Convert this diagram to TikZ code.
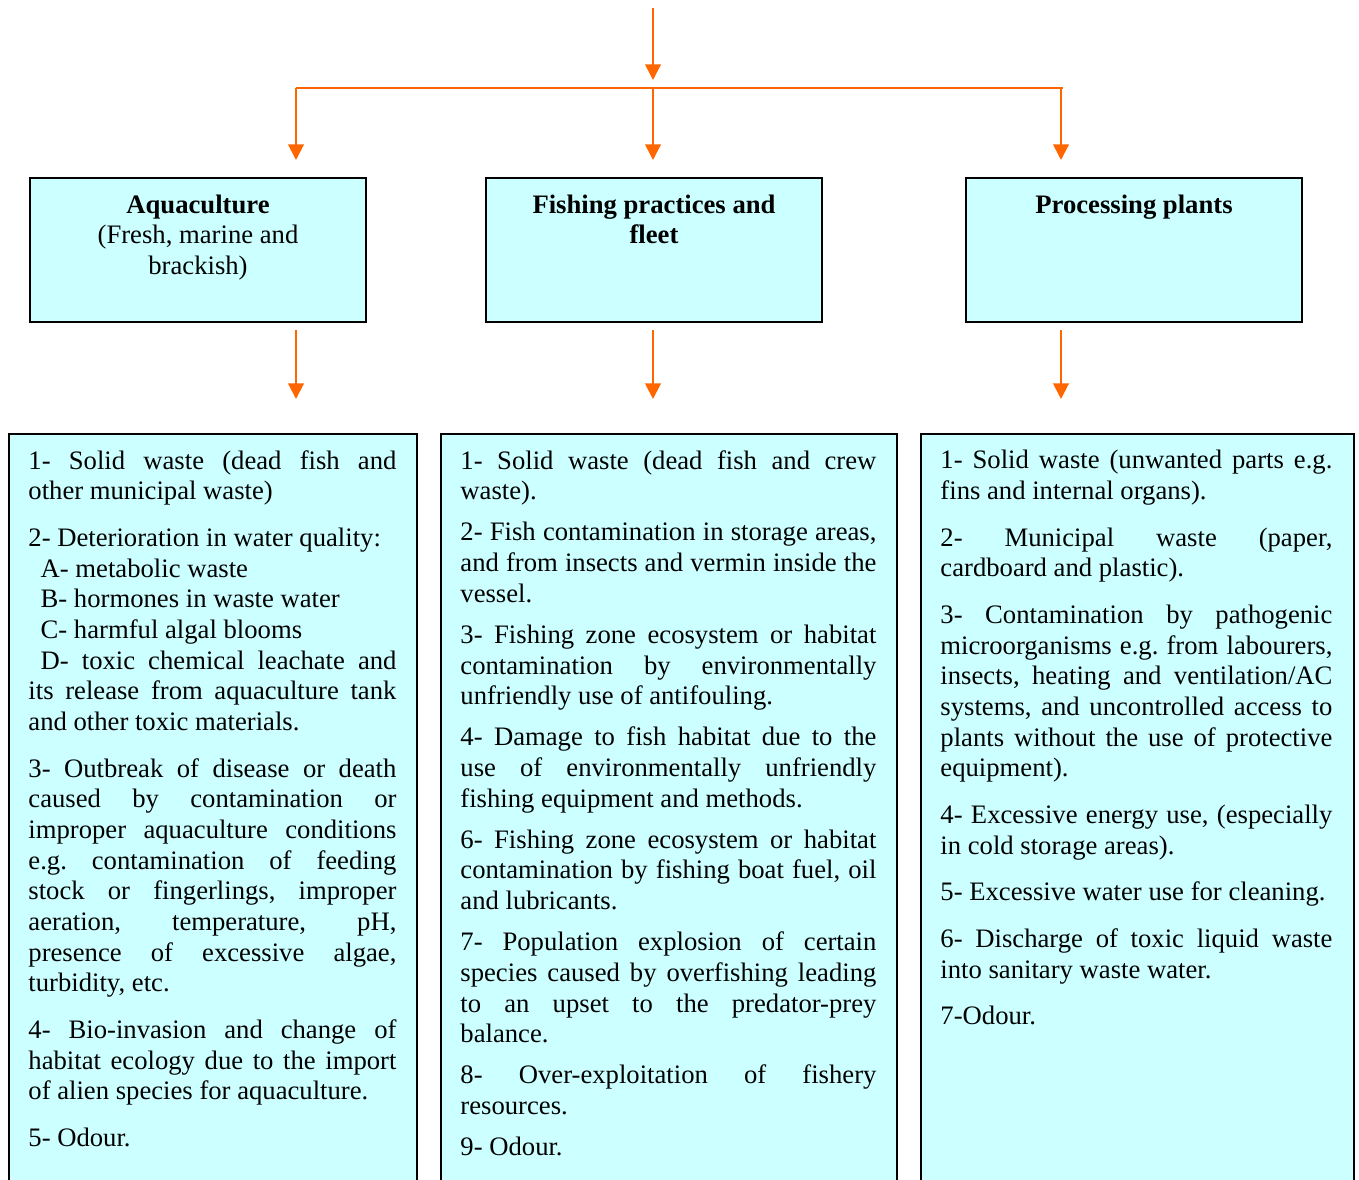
\documentclass[tikz,border=0pt]{standalone}
\usepackage{fontspec}
\setmainfont{Liberation Serif}
\usepackage{tikz}
\usetikzlibrary{positioning,arrows.meta}
\definecolor{boxcyan}{HTML}{CCFFFF}
\definecolor{flowline}{HTML}{FF6600}

\begin{document}
\begin{tikzpicture}[x=0.45pt,y=-0.45pt,
	flow/.style={draw=flowline,line width=0.9pt,-{Triangle[width=7pt,length=7pt]}},
	busline/.style={draw=flowline,line width=0.9pt},
	topbox/.style={draw,fill=boxcyan,line width=0.9pt,minimum width=151.2pt,minimum height=64.8pt,inner sep=0pt,anchor=north west},
	listbox/.style={draw,fill=boxcyan,line width=0.9pt,minimum height=345pt,inner sep=0pt,anchor=north west},
	titletext/.style={align=flush center,text width=121.5pt,inner sep=0pt,font=\fontsize{12}{13.8}\selectfont},
	listtext/.style={align=justify,inner sep=0pt,font=\fontsize{12}{13.8}\selectfont,
		execute at begin node={\setlength{\parskip}{#1}\frenchspacing\spaceskip=3pt plus 8pt\hyphenpenalty=10000\tolerance=9999}}]
	\useasboundingbox (0,0) rectangle (1359,1180);
	%Boxes
	\node[topbox] (aquaBox) at (29,177) {};
	\node[topbox] (fleetBox) at (485,177) {};
	\node[topbox] (plantBox) at (965,177) {};
	\node[listbox,minimum width=183.6pt] (aquaList) at (8,433) {};
	\node[listbox,minimum width=205.2pt] (fleetList) at (440,433) {};
	\node[listbox,minimum width=194.85pt] (plantList) at (920,433) {};
	%Titles
	\node[titletext,below=7.8pt of aquaBox.north] (aquaTitle) {\textbf{Aquaculture}\\(Fresh, marine and brackish)};
	\node[titletext,below=7.8pt of fleetBox.north] (fleetTitle) {\textbf{Fishing practices and fleet}};
	\node[titletext,below=7.8pt of plantBox.north] (plantTitle) {\textbf{Processing plants}};
	%Lists
	\node[listtext=7.2pt,text width=165.6pt,below right=7.6pt and 9pt of aquaList.north west] (aquaItems) {
		1- Solid waste (dead fish and other municipal waste)\par
		2- Deterioration in water quality:\newline
		\hspace*{5.5pt}A- metabolic waste\newline
		\hspace*{5.5pt}B- hormones in waste water\newline
		\hspace*{5.5pt}C- harmful algal blooms\newline
		\hspace*{5.5pt}D- toxic chemical leachate and its release from aquaculture tank and other toxic materials.\par
		3- Outbreak of disease or death caused by contamination or improper aquaculture conditions e.g. contamination of feeding stock or fingerlings, improper aeration, temperature, pH, presence of excessive algae, turbidity, etc.\par
		4- Bio-invasion and change of habitat ecology due to the import of alien species for aquaculture.\par
		5- Odour.};
	\node[listtext=4.7pt,text width=187.2pt,below right=7.6pt and 9pt of fleetList.north west] (fleetItems) {
		1- Solid waste (dead fish and crew waste).\par
		2- Fish contamination in storage areas, and from insects and vermin inside the vessel.\par
		3- Fishing zone ecosystem or habitat contamination by environmentally unfriendly use of antifouling.\par
		4- Damage to fish habitat due to the\linebreak use of environmentally unfriendly fishing equipment and methods.\par
		6- Fishing zone ecosystem or habitat contamination by fishing boat fuel, oil and lubricants.\par
		7- Population explosion of certain species caused by overfishing leading to an upset to the predator-prey balance.\par
		8- Over-exploitation of fishery resources.\par
		9- Odour.};
	\node[listtext=7.2pt,text width=176.4pt,below right=7.6pt and 9pt of plantList.north west] (plantItems) {
		1- Solid waste (unwanted parts e.g. fins and internal organs).\par
		2- Municipal waste (paper, cardboard and plastic).\par
		3- Contamination by pathogenic microorganisms e.g. from labourers, insects, heating and ventilation/AC systems, and uncontrolled access to plants without the use of protective equipment).\par
		4- Excessive energy use, (especially in cold storage areas).\par
		5- Excessive water use for cleaning.\par
		6- Discharge of toxic liquid waste into sanitary waste water.\par
		7-Odour.};
	%Split
	\coordinate (feed) at (653,8);
	\coordinate (busL) at (296,88);
	\coordinate (busM) at (653,88);
	\coordinate (busR) at (1063,88);
	\draw
		(feed) edge[flow,shorten >=3.6pt] (busM)
		(busL) edge[busline] (busR)
		(busL) edge[flow,shorten >=7.65pt] (busL |- aquaBox.north)
		(busM) edge[flow,shorten >=7.65pt] (busM |- fleetBox.north)
		([xshift=-0.9pt]busR) edge[flow,shorten >=7.65pt] ([xshift=-0.9pt]busR |- plantBox.north)
	;
	%Down arrows
	\draw
		(aquaBox.south -| busL) edge[flow,shorten <=3.15pt,shorten >=15.3pt] (aquaList.north -| busL)
		(fleetBox.south -| busM) edge[flow,shorten <=3.15pt,shorten >=15.3pt] (fleetList.north -| busM)
		([xshift=-0.9pt]plantBox.south -| busR) edge[flow,shorten <=3.15pt,shorten >=15.3pt] ([xshift=-0.9pt]plantList.north -| busR)
	;
\end{tikzpicture}
\end{document}
